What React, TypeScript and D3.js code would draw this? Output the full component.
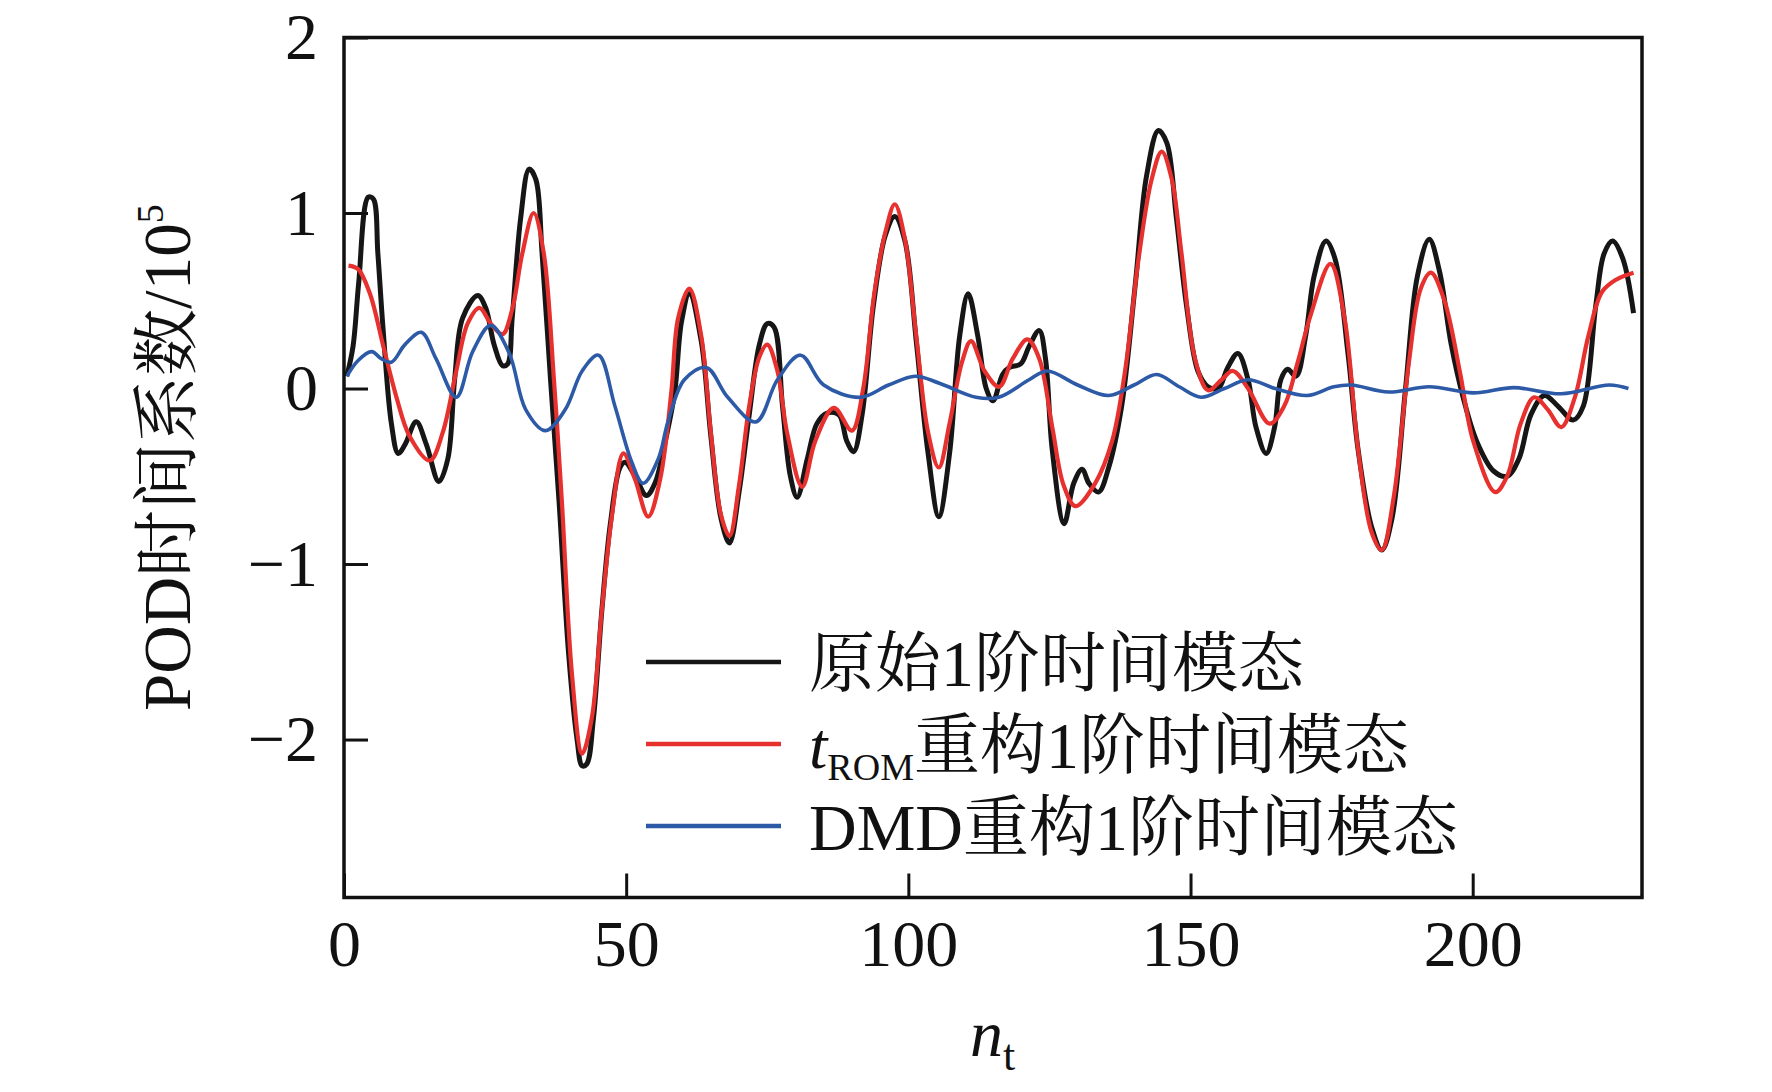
import React, { useEffect, useRef } from "react";
import * as d3 from "d3";

// nt positions and values (x 10^5)
const origT = [0.5, 1.6, 2.6, 4.3, 5.2, 6.0, 6.9, 8.4, 9.6, 10.8, 12.8, 14.6, 16.8, 18.4, 19.6, 21.0, 23.7, 25.1, 26.6, 28.1, 29.0, 29.8, 31.3, 32.8, 34.0, 35.1, 36.6, 38.1, 39.8, 41.3, 42.2, 43.0, 44.2, 45.7, 47.2, 48.9, 49.8, 51.6, 53.6, 55.1, 56.8, 58.6, 59.8, 61.2, 63.3, 65.0, 66.8, 68.3, 70.0, 71.8, 73.6, 75.0, 76.2, 77.7, 79.1, 80.3, 82.1, 83.8, 85.6, 87.7, 89.1, 90.3, 91.8, 93.8, 95.9, 97.6, 99.4, 101.4, 103.5, 105.4, 107.3, 109.1, 110.6, 112.3, 113.8, 115.0, 116.7, 117.9, 119.9, 121.4, 123.2, 124.3, 125.5, 127.6, 129.3, 130.8, 132.0, 133.7, 135.5, 137.8, 140.2, 142.2, 144.3, 145.8, 147.5, 149.3, 151.3, 153.1, 154.9, 156.6, 158.4, 160.2, 161.6, 163.4, 164.9, 166.0, 167.2, 168.7, 170.4, 171.9, 174.0, 175.6, 177.9, 179.7, 182.1, 183.9, 185.7, 188.1, 190.2, 192.3, 194.1, 196.2, 198.3, 200.7, 203.7, 206.1, 208.2, 210.3, 212.7, 215.1, 217.8, 219.6, 221.8, 223.3, 224.8, 226.6, 228.5];
const origV = [0.07, 0.24, 0.6, 1.09, 1.08, 0.77, 0.35, -0.2, -0.37, -0.32, -0.19, -0.32, -0.53, -0.4, 0.05, 0.4, 0.53, 0.46, 0.25, 0.13, 0.14, 0.4, 0.97, 1.25, 1.19, 0.77, 0.05, -0.64, -1.51, -2.0, -2.15, -2.14, -1.88, -1.26, -0.77, -0.45, -0.42, -0.5, -0.61, -0.54, -0.32, -0.02, 0.38, 0.54, 0.27, -0.27, -0.74, -0.88, -0.59, -0.15, 0.25, 0.37, 0.35, -0.1, -0.5, -0.62, -0.4, -0.2, -0.14, -0.15, -0.3, -0.36, -0.15, 0.47, 0.87, 0.98, 0.84, 0.27, -0.37, -0.73, -0.37, 0.3, 0.54, 0.3, 0.0, -0.07, 0.08, 0.12, 0.14, 0.24, 0.33, 0.17, -0.35, -0.77, -0.54, -0.46, -0.54, -0.59, -0.45, -0.1, 0.59, 1.21, 1.47, 1.4, 0.97, 0.47, 0.1, 0.01, 0.0, 0.12, 0.2, 0.05, -0.22, -0.37, -0.22, 0.05, 0.11, 0.07, 0.3, 0.64, 0.84, 0.74, 0.2, -0.35, -0.79, -0.92, -0.74, 0.0, 0.64, 0.85, 0.67, 0.25, -0.05, -0.3, -0.47, -0.5, -0.4, -0.15, -0.04, -0.1, -0.18, -0.1, 0.47, 0.77, 0.84, 0.74, 0.43];

const romT = [0.8, 2.5, 4.6, 6.9, 9.3, 11.6, 15.2, 17.5, 19.9, 21.9, 24.0, 26.0, 28.1, 29.8, 31.6, 33.6, 35.4, 37.2, 38.6, 40.4, 42.2, 43.9, 45.7, 47.5, 49.5, 51.6, 53.9, 56.0, 58.0, 59.2, 61.2, 63.3, 65.0, 66.8, 68.3, 70.0, 71.8, 73.6, 75.0, 76.8, 78.5, 81.2, 83.5, 86.8, 90.0, 92.0, 94.0, 96.0, 97.6, 99.4, 101.4, 103.5, 105.4, 107.3, 109.5, 111.1, 113.5, 116.1, 118.5, 121.1, 123.2, 125.5, 127.5, 129.6, 133.1, 136.1, 138.4, 140.8, 143.1, 144.9, 146.7, 148.4, 150.8, 153.1, 155.5, 157.5, 160.2, 164.0, 166.6, 169.0, 171.3, 174.8, 177.3, 179.7, 182.1, 183.9, 186.0, 188.7, 190.8, 192.6, 195.0, 197.7, 200.1, 204.0, 206.1, 208.5, 210.9, 213.3, 215.7, 218.1, 220.5, 222.9, 225.4, 228.5];
const romV = [0.7, 0.68, 0.54, 0.25, -0.05, -0.27, -0.41, -0.25, 0.1, 0.37, 0.46, 0.37, 0.31, 0.45, 0.77, 1.0, 0.77, 0.05, -0.64, -1.63, -2.08, -1.88, -1.26, -0.72, -0.37, -0.52, -0.73, -0.52, -0.02, 0.4, 0.57, 0.3, -0.25, -0.72, -0.84, -0.55, -0.1, 0.18, 0.25, 0.1, -0.25, -0.56, -0.3, -0.11, -0.24, 0.0, 0.55, 0.9, 1.05, 0.85, 0.3, -0.25, -0.45, -0.2, 0.15, 0.27, 0.1, 0.01, 0.17, 0.28, 0.17, -0.22, -0.55, -0.67, -0.54, -0.3, 0.1, 0.74, 1.19, 1.35, 1.19, 0.77, 0.17, -0.01, 0.05, 0.1, 0.0, -0.2, -0.1, 0.15, 0.42, 0.71, 0.4, -0.35, -0.82, -0.92, -0.62, 0.15, 0.57, 0.66, 0.5, 0.1, -0.3, -0.59, -0.5, -0.2, -0.05, -0.12, -0.22, -0.05, 0.3, 0.55, 0.62, 0.66];

const dmdT = [0.5, 2.5, 4.9, 6.6, 8.4, 10.8, 13.7, 16.3, 19.9, 22.8, 26.0, 29.3, 32.2, 35.7, 39.2, 42.2, 45.1, 48.0, 51.0, 53.0, 55.7, 57.4, 60.3, 64.2, 68.0, 73.0, 76.8, 80.9, 85.0, 91.5, 96.5, 101.2, 105.5, 112.0, 116.0, 121.4, 124.6, 130.0, 135.5, 140.0, 144.0, 148.0, 151.9, 156.0, 160.2, 165.0, 170.7, 175.4, 178.5, 185.1, 192.3, 200.1, 207.3, 215.7, 224.2, 227.6];
const dmdV = [0.07, 0.16, 0.21, 0.17, 0.15, 0.25, 0.32, 0.17, -0.05, 0.21, 0.36, 0.2, -0.12, -0.24, -0.12, 0.1, 0.19, -0.1, -0.42, -0.54, -0.4, -0.19, 0.05, 0.12, -0.05, -0.19, 0.05, 0.19, 0.02, -0.05, 0.02, 0.07, 0.03, -0.05, -0.05, 0.05, 0.1, 0.02, -0.04, 0.02, 0.08, 0.01, -0.05, 0.0, 0.05, 0.0, -0.04, 0.01, 0.02, -0.02, 0.01, -0.025, 0.005, -0.03, 0.02, 0.0];

const xTicks = [0, 50, 100, 150, 200];
const yTicks = [-2, -1, 0, 1, 2];
const seriesColors = ["#161616", "#e6312f", "#2d5aa6"];
const seriesWidths = [5, 4.2, 3.6];
const legendNames = ["原始1阶时间模态", "重构1阶时间模态", "DMD重构1阶时间模态"];

const serif = '"Liberation Serif", "Times New Roman", "Noto Serif CJK SC", "Noto Sans CJK SC", serif';

function App() {
  const svgRef = useRef<SVGSVGElement>(null);

  useEffect(() => {
    const svg = d3.select(svgRef.current);
    svg.selectAll("*").remove();

    const x = d3.scaleLinear().domain([0, 230]).range([344, 1642]);
    const y = d3.scaleLinear().domain([-2.9, 2]).range([897.5, 37.5]);

    // series
    const series = [
      [origT, origV],
      [romT, romV],
      [dmdT, dmdV],
    ];
    series.forEach(([T, V], k) => {
      const line = d3
        .line<number>()
        .x((d, i) => x(T[i]))
        .y((d) => y(d))
        .curve(d3.curveCatmullRom.alpha(0.5));
      svg
        .append("path")
        .attr("d", line(V))
        .attr("fill", "none")
        .attr("stroke", seriesColors[k])
        .attr("stroke-width", seriesWidths[k])
        .attr("stroke-linejoin", "round");
    });

    // axes, ticks pointing inside
    const gx = svg
      .append("g")
      .attr("transform", `translate(0,${y(-2.9)})`)
      .call(d3.axisBottom(x).tickValues(xTicks).tickSize(-24).tickSizeOuter(0).tickPadding(22).tickFormat(d3.format("d")));
    const gy = svg
      .append("g")
      .attr("transform", `translate(${x(0)},0)`)
      .call(d3.axisLeft(y).tickValues(yTicks).tickSize(-24).tickSizeOuter(0).tickPadding(26).tickFormat(d3.format("d")));
    [gx, gy].forEach((g) => {
      g.select(".domain").remove();
      g.selectAll("line").attr("stroke", "#111").attr("stroke-width", 3);
      g.selectAll("text").attr("font-size", 66).attr("font-family", serif).attr("fill", "#111");
    });

    svg
      .append("rect")
      .attr("x", x(0))
      .attr("y", y(2))
      .attr("width", x(230) - x(0))
      .attr("height", y(-2.9) - y(2))
      .attr("fill", "none")
      .attr("stroke", "#111")
      .attr("stroke-width", 3.5);

    // axis titles
    const xt = svg.append("text").attr("x", 970).attr("y", 1056).attr("font-family", serif).attr("fill", "#111");
    xt.append("tspan").attr("font-style", "italic").attr("font-size", 66).text("n");
    xt.append("tspan").attr("font-size", 44).attr("dy", 14).text("t");

    const yt = svg
      .append("text")
      .attr("transform", "translate(190,711) rotate(-90)")
      .attr("font-family", serif)
      .attr("font-size", 67)
      .attr("fill", "#111");
    yt.append("tspan").text("POD时间系数/10");
    yt.append("tspan").attr("font-size", 38).attr("dy", -27).text("5");

    // legend
    legendNames.forEach((name, i) => {
      const ly = 662 + i * 82;
      svg
        .append("line")
        .attr("x1", 646)
        .attr("x2", 781)
        .attr("y1", ly)
        .attr("y2", ly)
        .attr("stroke", seriesColors[i])
        .attr("stroke-width", 4.5);
      const t = svg
        .append("text")
        .attr("x", 809)
        .attr("y", ly + 24)
        .attr("font-family", serif)
        .attr("font-size", 66)
        .attr("fill", "#111");
      if (i === 1) {
        t.append("tspan").attr("font-style", "italic").text("t");
        t.append("tspan").attr("font-size", 38).attr("dy", 12).text("ROM");
        t.append("tspan").attr("dy", -12).text(name);
      } else {
        t.append("tspan").text(name);
      }
    });
  }, []);

  return (
    <svg
      ref={svgRef}
      width={1772}
      height={1092}
      style={{ position: "absolute", left: 0, top: 0, background: "#fff" }}
    />
  );
}

export default App;
